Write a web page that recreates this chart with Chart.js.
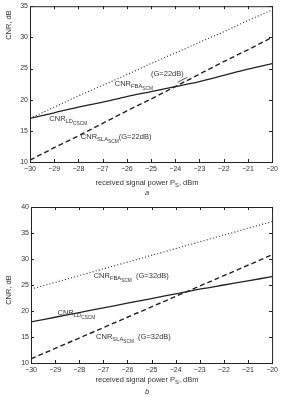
<!DOCTYPE html>
<html><head><meta charset="utf-8">
<script src="https://cdn.jsdelivr.net/npm/chart.js@4/dist/chart.umd.min.js"></script>
<style>
html,body{margin:0;padding:0;background:#fff;width:281px;height:397px;overflow:hidden}
.box{position:absolute;left:0;width:281px}
#wa{top:0;height:197px}
#wb{top:197px;height:200px}
</style></head><body>
<div class="box" id="wa"><canvas id="ca" width="281" height="197"></canvas></div>
<div class="box" id="wb"><canvas id="cb" width="281" height="200"></canvas></div>
<script>
// ---- data ----
const powerDbm = [-30,-29,-28,-27,-26,-25,-24,-23,-22,-21,-20];
const xTickLabels = [-30,-29,-28,-27,-26,-25,-24,-23,-22,-21,-20];
// panel a (G = 22 dB)
const aFBA = [17.0,18.8,20.6,22.3,24.0,25.8,27.5,29.2,30.9,32.7,34.4];
const aLD  = [17.0,17.9,18.8,19.6,20.5,21.3,22.1,22.9,23.9,24.9,25.8];
const aSLA = [10.3,12.3,14.2,16.2,18.2,20.1,22.1,24.1,26.1,28.0,30.0];
const aYTicks = [10,15,20,25,30,35];
// panel b (G = 32 dB)
const bFBA = [24.2,25.5,26.8,28.1,29.4,30.7,32.0,33.3,34.6,35.9,37.2];
const bLD  = [17.9,18.8,19.7,20.6,21.5,22.4,23.3,24.2,25.0,25.8,26.6];
const bSLA = [10.8,12.8,14.8,16.8,18.8,20.8,22.8,24.8,26.8,28.8,30.8];
const bYTicks = [10,15,20,25,30,35,40];

const INK = '#222';
const TXT = '#333';
const FONT = '"Liberation Sans", "DejaVu Sans", sans-serif';

function pts(ys){ return powerDbm.map((x,i)=>({x:x,y:ys[i]})); }

function drawRich(ctx, x, y, parts){
  let cx = x;
  ctx.textBaseline = 'middle';
  ctx.textAlign = 'left';
  parts.forEach(p=>{
    const lvl = p[1]||0;
    const size = lvl===0 ? 7.5 : (lvl===1 ? 5.8 : 4.8);
    const dy = lvl===0 ? 0 : (lvl===1 ? 2.5 : 4.2);
    ctx.font = size + 'px ' + FONT;
    ctx.fillText(p[0], cx, y + dy);
    cx += ctx.measureText(p[0]).width;
  });
}

function makeChart(id, sets, yTicks, yMin, yMax, opts){
  const overlay = {
    id:'overlay',
    afterDraw(chart){
      const ctx = chart.ctx, a = chart.chartArea;
      const xs = chart.scales.x, ys = chart.scales.y;
      ctx.save();
      ctx.strokeStyle = INK; ctx.lineWidth = 1;
      ctx.strokeRect(a.left+0.5, a.top+0.5, a.right-a.left, a.bottom-a.top);
      ctx.beginPath();
      xTickLabels.forEach(v=>{
        const px = Math.round(xs.getPixelForValue(v))+0.5;
        ctx.moveTo(px, a.bottom); ctx.lineTo(px, a.bottom-3);
        ctx.moveTo(px, a.top); ctx.lineTo(px, a.top+3);
      });
      yTicks.forEach(v=>{
        const py = Math.round(ys.getPixelForValue(v))+0.5;
        ctx.moveTo(a.left, py); ctx.lineTo(a.left+3, py);
        ctx.moveTo(a.right, py); ctx.lineTo(a.right-3, py);
      });
      ctx.stroke();
      ctx.fillStyle = TXT;
      // x title
      ctx.font = '7.5px ' + FONT;
      const t1 = 'received signal power P', t2 = 'S', t3 = ', dBm';
      ctx.font = '7.5px ' + FONT; const w1 = ctx.measureText(t1).width, w3 = ctx.measureText(t3).width;
      ctx.font = '5.8px ' + FONT; const w2 = ctx.measureText(t2).width;
      drawRich(ctx, opts.xTitleX - (w1+w2+w3)/2, opts.xTitleY, [[t1,0],[t2,1],[t3,0]]);
      // panel letter
      ctx.font = 'italic 7.5px ' + FONT; ctx.textAlign='center';
      ctx.fillText(opts.letter, opts.xTitleX, opts.letterY);
      // y title
      ctx.save();
      ctx.translate(opts.yTitleX, opts.yTitleY); ctx.rotate(-Math.PI/2);
      ctx.font = '7.5px ' + FONT; ctx.textAlign='center'; ctx.textBaseline='middle';
      ctx.fillText('CNR, dB', 0, 0);
      ctx.restore();
      // annotations
      opts.notes.forEach(n=>{
        drawRich(ctx, xs.getPixelForValue(n.x), ys.getPixelForValue(n.y), n.parts);
      });
      if (opts.arrow){
        const ar = opts.arrow;
        const x1 = xs.getPixelForValue(ar[0]), y1 = ys.getPixelForValue(ar[1]);
        const x2 = xs.getPixelForValue(ar[2]), y2 = ys.getPixelForValue(ar[3]);
        ctx.beginPath(); ctx.moveTo(x1,y1); ctx.lineTo(x2,y2); ctx.lineWidth=0.8; ctx.stroke();
      }
      ctx.restore();
    }
  };
  return new Chart(document.getElementById(id), {
    type:'line',
    data:{datasets:[
      {data:pts(sets[0]), borderColor:INK, borderWidth:1.1, borderDash:[1,2.2], pointRadius:0, tension:0},
      {data:pts(sets[1]), borderColor:INK, borderWidth:1.3, pointRadius:0, tension:0.3},
      {data:pts(sets[2]), borderColor:INK, borderWidth:1.4, borderDash:[5,3], pointRadius:0, tension:0}
    ]},
    options:{
      responsive:false, animation:false,
      layout:{padding:{top:opts.padTop, right:8, left:0, bottom:0}},
      plugins:{legend:{display:false}, tooltip:{enabled:false}},
      scales:{
        x:{type:'linear', min:-30, max:-20,
           afterBuildTicks(s){ s.ticks = xTickLabels.map(v=>({value:v})); },
           afterFit(s){ s.height = opts.xH; },
           grid:{display:false, drawTicks:false}, border:{display:false},
           ticks:{color:TXT, padding:3, maxRotation:0, font:{size:7, family:FONT},
                  callback:v=>String(v).replace('-','\u2212')}},
        y:{type:'linear', min:yMin, max:yMax,
           afterBuildTicks(s){ s.ticks = yTicks.map(v=>({value:v})); },
           afterFit(s){ s.width = opts.yW; },
           grid:{display:false, drawTicks:false}, border:{display:false},
           ticks:{color:TXT, padding:2, font:{size:7, family:FONT}}}
      }
    },
    plugins:[overlay]
  });
}

makeChart('ca', [aFBA,aLD,aSLA], aYTicks, 10, 35, {
  padTop:4, xH:35, yW:30, xTitleX:147, xTitleY:183, letter:'a', letterY:193,
  yTitleX:9, yTitleY:25,
  notes:[
    {x:-26.5, y:22.5, parts:[['CNR',0],['FBA',1],['SCM',2]]},
    {x:-25.0, y:24.2, parts:[['(G=22dB)',0]]},
    {x:-29.2, y:16.9, parts:[['CNR',0],['LD',1],['CSCM',2]]},
    {x:-27.9, y:14.0, parts:[['CNR',0],['SLA',1],['SCM',2],['(G=22dB)',0]]}
  ],
  arrow:[-23.5,23.6,-23.9,22.8]
});
makeChart('cb', [bFBA,bLD,bSLA], bYTicks, 10, 40, {
  padTop:10, xH:34, yW:31, xTitleX:147, xTitleY:183, letter:'b', letterY:195,
  yTitleX:9, yTitleY:93,
  notes:[
    {x:-27.4, y:26.7, parts:[['CNR',0],['FBA',1],['SCM',2],['  (G=32dB)',0]]},
    {x:-28.9, y:19.6, parts:[['CNR',0],['LD',1],['CSCM',2]]},
    {x:-27.3, y:15.0, parts:[['CNR',0],['SLA',1],['SCM',2],['  (G=32dB)',0]]}
  ]
});
</script>
</body></html>
